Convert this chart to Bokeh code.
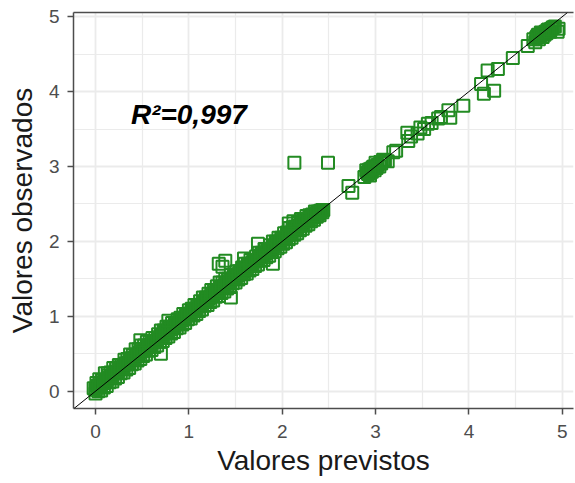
from bokeh.plotting import figure
from bokeh.models import Range1d, FixedTicker, LinearAxis, Slope, Label, ColumnDataSource
from bokeh.embed import file_html
from bokeh.resources import INLINE

# ---- data (predicted vs observed) ----
band_hi_pred = [-0.02,0.01,0.04,0.07,0.10,0.13,0.16,0.19,0.22,0.25,0.28,0.31,0.34,0.37,0.40,0.43,0.46,0.49,0.52,0.55,
                0.58,0.61,0.64,0.67,0.70,0.73,0.76,0.79,0.82,0.85,0.88,0.91,0.94,0.97,1.00,1.03,1.06,1.09,1.12,1.15,
                1.18,1.21,1.24,1.27,1.30,1.33,1.36,1.39,1.42,1.45,1.48,1.51,1.54,1.57,1.60,1.63,1.66,1.69,1.72,1.75,
                1.78,1.81,1.84,1.87,1.90,1.93,1.96,1.99,2.02,2.05,2.08,2.11,2.14,2.17,2.20,2.23,2.26,2.29,2.32,2.35,
                2.38,2.41,2.44]
band_hi_obs = [0.04,0.11,0.16,0.15,0.24,0.24,0.25,0.31,0.30,0.35,0.35,0.42,0.43,0.49,0.48,0.56,0.56,0.61,0.61,0.66,
               0.66,0.71,0.71,0.76,0.81,0.81,0.86,0.86,0.91,0.91,0.96,0.98,1.03,1.03,1.08,1.10,1.15,1.15,1.20,1.25,
               1.25,1.30,1.35,1.35,1.40,1.45,1.45,1.50,1.50,1.55,1.55,1.60,1.60,1.65,1.70,1.70,1.75,1.75,1.80,1.85,
               1.85,1.90,1.90,1.95,2.00,2.00,2.05,2.05,2.11,2.12,2.18,2.19,2.20,2.26,2.27,2.28,2.34,2.35,2.36,2.40,
               2.40,2.41,2.42]
band_mid_pred = [0.015,0.045,0.075,0.105,0.135,0.165,0.195,0.225,0.255,0.285,0.315,0.345,0.375,0.405,0.435,0.465,
                 0.495,0.525,0.555,0.585,0.615,0.645,0.675,0.705,0.735,0.765,0.795,0.825,0.855,0.885,0.915,0.945,
                 0.975,1.005,1.035,1.065,1.095,1.125,1.155,1.185,1.215,1.245,1.275,1.305,1.335,1.365,1.395,1.425,
                 1.455,1.485,1.515,1.545,1.575,1.605,1.635,1.665,1.695,1.725,1.755,1.785,1.815,1.845,1.875,1.905,
                 1.935,1.965,1.995,2.025,2.055,2.085,2.115,2.145,2.175,2.205,2.235,2.265,2.295,2.325,2.355,2.385,
                 2.415]
band_mid_obs = [0.07,0.08,0.14,0.13,0.21,0.20,0.25,0.26,0.32,0.31,0.37,0.38,0.44,0.43,0.49,0.51,
                0.56,0.55,0.61,0.62,0.67,0.67,0.72,0.74,0.79,0.79,0.84,0.85,0.90,0.90,0.95,0.97,
                1.02,1.02,1.07,1.09,1.14,1.14,1.19,1.24,1.24,1.29,1.34,1.34,1.39,1.39,1.44,1.49,
                1.49,1.54,1.54,1.59,1.59,1.64,1.69,1.69,1.74,1.74,1.79,1.84,1.84,1.89,1.89,1.94,
                1.99,1.99,2.04,2.04,2.09,2.11,2.16,2.16,2.21,2.22,2.27,2.27,2.32,2.32,2.37,2.37,
                2.41]
band_lo_pred = [0.00,0.03,0.06,0.09,0.12,0.15,0.18,0.21,0.24,0.27,0.30,0.33,0.36,0.39,0.42,0.45,0.48,0.51,0.54,0.57,
                0.60,0.63,0.66,0.69,0.72,0.75,0.78,0.81,0.84,0.87,0.90,0.93,0.96,0.99,1.02,1.05,1.08,1.11,1.14,1.17,
                1.20,1.23,1.26,1.29,1.32,1.35,1.38,1.41,1.44,1.47,1.50,1.53,1.56,1.59,1.62,1.65,1.68,1.71,1.74,1.77,
                1.80,1.83,1.86,1.89,1.92,1.95,1.98,2.01,2.04,2.07,2.10,2.13,2.16,2.19,2.22,2.25,2.28,2.31,2.34,2.37,
                2.40,2.43]
band_lo_obs = [-0.03,0.00,0.01,0.05,0.07,0.12,0.13,0.17,0.19,0.24,0.25,0.29,0.31,0.36,0.37,0.41,0.43,0.47,0.49,0.54,
               0.55,0.59,0.61,0.66,0.67,0.71,0.73,0.77,0.79,0.84,0.85,0.89,0.91,0.96,0.97,1.01,1.03,1.07,1.09,1.14,
               1.15,1.19,1.21,1.26,1.27,1.31,1.33,1.37,1.39,1.44,1.45,1.49,1.51,1.56,1.57,1.61,1.63,1.67,1.69,1.74,
               1.75,1.79,1.81,1.86,1.87,1.91,1.93,1.97,1.99,2.03,2.05,2.09,2.11,2.15,2.17,2.21,2.23,2.27,2.29,2.33,
               2.35,2.39]
band_core_pred = [0.00,0.03,0.06,0.09,0.12,0.15,0.18,0.21,0.24,0.27,0.30,0.33,0.36,0.39,0.42,0.45,0.48,0.51,0.54,0.57,
                  0.60,0.63,0.66,0.69,0.72,0.75,0.78,0.81,0.84,0.87,0.90,0.93,0.96,0.99,1.02,1.05,1.08,1.11,1.14,1.17,
                  1.20,1.23,1.26,1.29,1.32,1.35,1.38,1.41,1.44,1.47,1.50,1.53,1.56,1.59,1.62,1.65,1.68,1.71,1.74,1.77,
                  1.80,1.83,1.86,1.89,1.92,1.95,1.98,2.01,2.04,2.07,2.10,2.13,2.16,2.19,2.22,2.25,2.28,2.31,2.34,2.37,
                  2.40,2.43]
band_core_obs = [0.02,0.05,0.09,0.11,0.15,0.18,0.21,0.24,0.27,0.30,0.33,0.36,0.39,0.42,0.45,0.48,0.52,0.54,0.57,0.60,
                 0.63,0.66,0.68,0.71,0.74,0.77,0.80,0.83,0.86,0.89,0.92,0.95,0.98,1.01,1.04,1.07,1.10,1.13,1.16,1.20,
                 1.23,1.26,1.29,1.32,1.35,1.38,1.41,1.44,1.47,1.50,1.53,1.56,1.59,1.62,1.65,1.68,1.71,1.73,1.76,1.79,
                 1.82,1.85,1.88,1.91,1.94,1.97,2.00,2.03,2.06,2.09,2.12,2.15,2.18,2.21,2.24,2.27,2.30,2.32,2.35,2.38,
                 2.40,2.42]
sparse_pred = [0.48,0.70,0.78,1.32,1.39,1.36,1.45,1.59,1.74,1.90,1.82,2.07,2.12,2.20,2.13,2.49,2.71,2.75,
               2.88,2.92,2.95,2.98,3.02,3.06,3.10,3.13,2.96,3.00,2.90,2.94,3.04,3.08,2.99,
               2.91,2.97,3.01,3.05,2.93,
               3.19,3.22,3.34,3.35,3.38,3.45,3.48,3.52,3.56,3.60,3.67,3.70,3.78,3.80,3.94,
               4.13,4.16,4.27,4.20,4.31,4.47,4.63,4.69,4.72,4.74,4.76,4.78,4.80,4.82,4.84,
               4.86,4.88,4.90,4.95,4.96,4.92,4.71,4.75,4.79,4.83,4.73,4.77,4.81,4.85,4.87]
sparse_obs = [0.68,0.50,0.94,1.70,1.74,1.66,1.25,1.77,1.97,1.70,1.90,2.24,2.27,2.30,3.05,3.05,2.74,2.65,
              2.86,2.90,2.97,3.00,3.02,3.04,3.08,3.07,2.93,3.05,2.95,2.88,3.00,3.09,2.95,
              2.92,2.99,2.98,3.06,2.96,
              3.19,3.21,3.45,3.34,3.40,3.44,3.52,3.50,3.57,3.58,3.64,3.66,3.75,3.65,3.81,
              4.10,3.97,4.01,4.28,4.30,4.45,4.61,4.70,4.72,4.76,4.74,4.78,4.77,4.80,4.82,
              4.81,4.84,4.86,4.80,4.84,4.87,4.66,4.70,4.73,4.78,4.74,4.79,4.76,4.83,4.80]

x_ticks = [0, 1, 2, 3, 4, 5]
y_ticks = [0, 1, 2, 3, 4, 5]
minor_ticks = [0.5, 1.5, 2.5, 3.5, 4.5]
r2_text = "R²=0,997"

pred = band_hi_pred + band_mid_pred + band_lo_pred + band_core_pred + sparse_pred
obs = band_hi_obs + band_mid_obs + band_lo_obs + band_core_obs + sparse_obs
src = ColumnDataSource(data=dict(pred=pred, obs=obs))

p = figure(width=575, height=483, output_backend="svg", toolbar_location=None,
           x_range=Range1d(-0.236, 5.12), y_range=Range1d(-0.231, 5.056),
           min_border_left=73, min_border_right=2, min_border_top=12, min_border_bottom=75)
p.outline_line_color = None
p.background_fill_color = "white"
p.border_fill_color = "white"

for ax, ticks in ((p.xaxis, x_ticks), (p.yaxis, y_ticks)):
    ax.ticker = FixedTicker(ticks=ticks, minor_ticks=minor_ticks)
    ax.axis_line_color = "#4D4D4D"
    ax.axis_line_width = 1.5
    ax.major_tick_line_color = "#4D4D4D"
    ax.major_tick_line_width = 1.5
    ax.major_tick_out = 6
    ax.major_tick_in = 0
    ax.minor_tick_line_color = None
    ax.major_label_text_font = "Liberation Sans"
    ax.major_label_text_font_size = "19px"
    ax.major_label_text_color = "#4D4D4D"
    ax.axis_label_text_font = "Liberation Sans"
    ax.axis_label_text_font_size = "28px"
    ax.axis_label_text_font_style = "normal"
    ax.axis_label_text_color = "#1A1A1A"

p.xaxis.axis_label = "Valores previstos"
p.yaxis.axis_label = "Valores observados"
p.xaxis.major_label_standoff = 10
p.yaxis.major_label_standoff = 8
p.xaxis.axis_label_standoff = 4
p.yaxis.axis_label_standoff = 8

top = LinearAxis(ticker=FixedTicker(ticks=[]), axis_line_color="#4D4D4D", axis_line_width=1.5,
                 major_tick_line_color=None, minor_tick_line_color=None,
                 major_label_text_font_size="0px")
p.add_layout(top, "above")

for g in (p.xgrid, p.ygrid):
    g.grid_line_color = "#EBEBEB"
    g.grid_line_width = 1.8
    g.minor_grid_line_color = "#EBEBEB"
    g.minor_grid_line_width = 1.2
p.xgrid.ticker = FixedTicker(ticks=x_ticks, minor_ticks=minor_ticks)
p.ygrid.ticker = FixedTicker(ticks=y_ticks, minor_ticks=minor_ticks)

p.scatter("pred", "obs", source=src, marker="square", size=12, fill_color=None,
          line_color="#228B22", line_width=2)

p.add_layout(Slope(gradient=1, y_intercept=0, line_color="black", line_width=1))

p.add_layout(Label(x=1.0, y=3.69, text=r2_text, text_align="center", text_baseline="middle",
                   text_font="Liberation Sans", text_font_size="28px", text_font_style="bold italic",
                   text_color="black"))

open("out.html", "w").write(file_html(p, INLINE))
